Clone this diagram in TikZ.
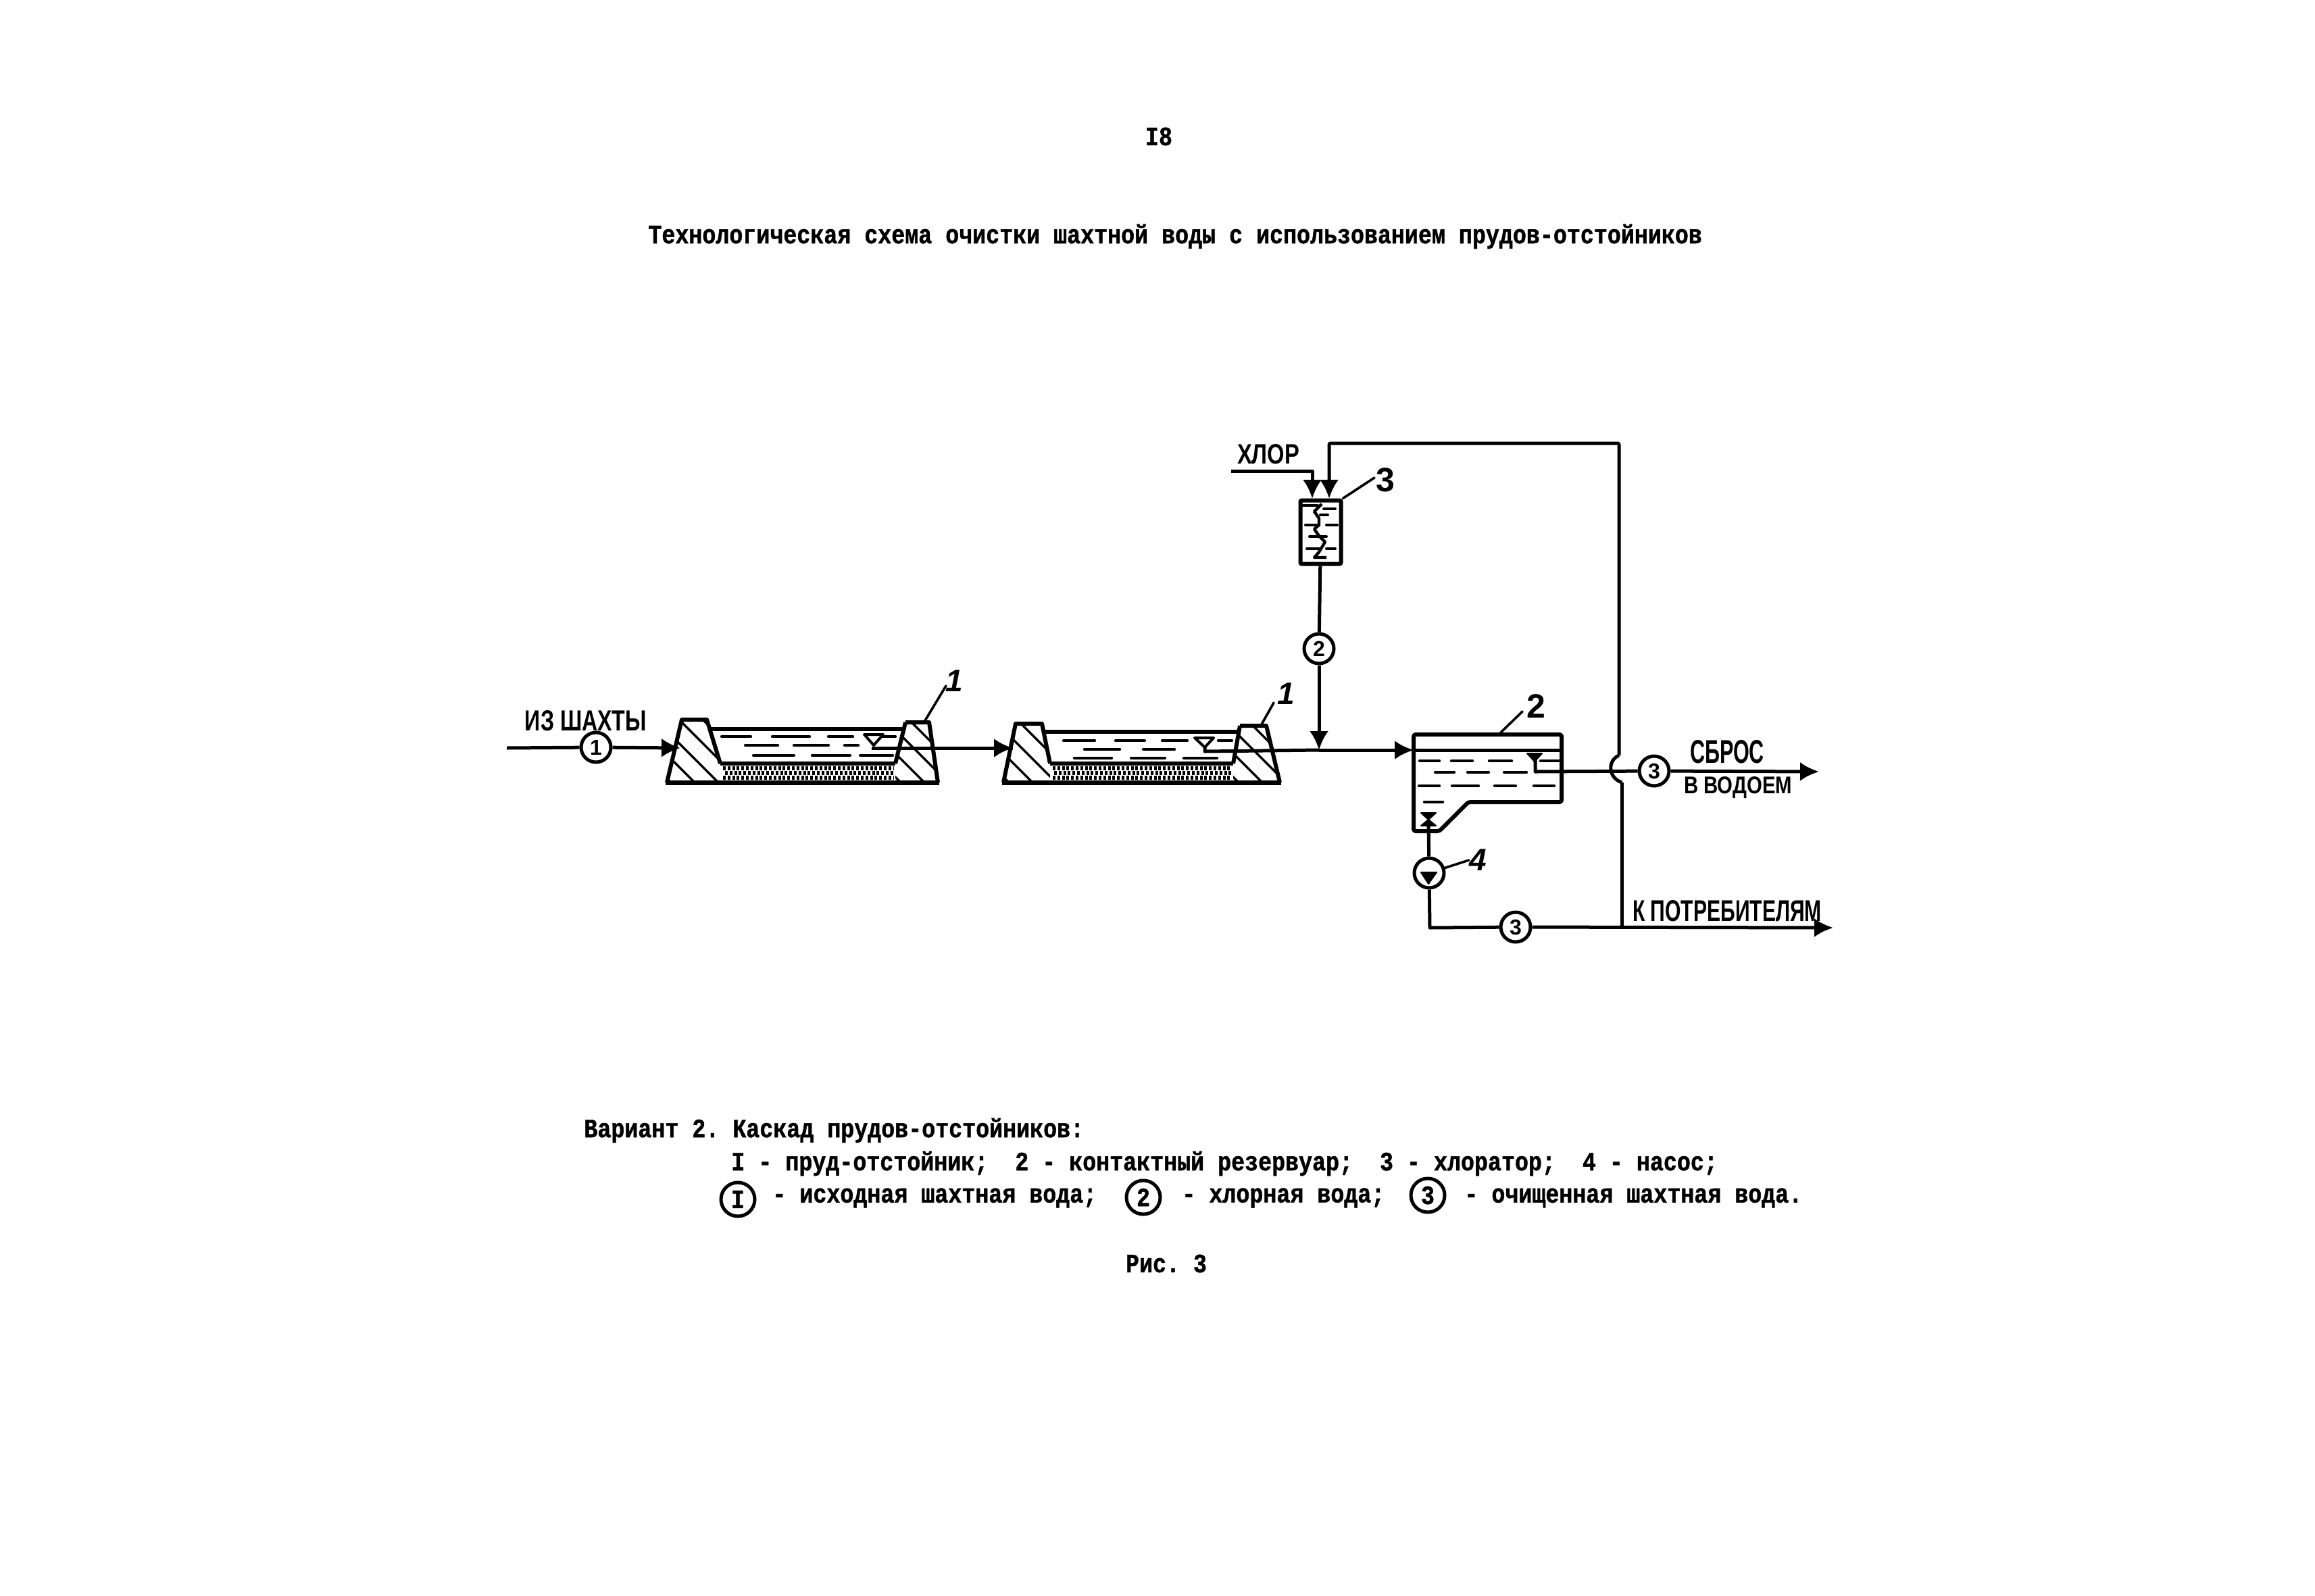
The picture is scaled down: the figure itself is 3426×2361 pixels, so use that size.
\documentclass[tikz,border=0pt]{standalone}
\usepackage{fontspec}
\usepackage{graphicx}
\setmainfont{Liberation Mono}[FakeStretch=0.85,BoldFeatures={FakeBold=1.2}]
\newfontfamily\labfont{Liberation Sans}
\usetikzlibrary{arrows.meta}
\frenchspacing
\newcommand{\fitlab}[3]{\resizebox{#1pt}{#2pt}{\labfont\bfseries #3}}
\tikzset{
  pipe/.style={line width=2.5pt,line join=round},
  flow/.style={pipe,-{Latex[length=14pt,width=14pt]}},
  leader/.style={line width=1.8pt,line cap=round},
  wall/.style={line width=3pt,line join=round},
  hatchline/.style={line width=1.6pt},
  waterdash/.style={line width=2.2pt,line cap=round},
  sediment/.style={line width=2.6pt,dash pattern=on 2pt off 1.4pt},
  tag/.style={circle,draw,line width=2.5pt,fill=white,minimum size=22pt,inner sep=0pt,font=\labfont\bfseries\fontsize{16}{16}\selectfont},
  bigtag/.style={circle,draw,line width=2.5pt,fill=white,minimum size=25pt,inner sep=0pt,font=\bfseries\fontsize{19.6}{22}\selectfont},
  mono/.style={inner sep=0pt,font=\bfseries\fontsize{19.6}{22}\selectfont},
  num/.style={inner sep=0pt,font=\labfont\bfseries\fontsize{25}{25}\selectfont},
  numi/.style={inner sep=0pt,font=\labfont\bfseries\itshape\fontsize{23}{23}\selectfont},
  lab/.style={inner sep=0pt},
  mark tri/.style={fill=black,draw=black,line width=1pt,line join=round},
  level tri/.style={fill=white,draw=black,line width=2pt,line join=round},
}
\begin{document}
\begin{tikzpicture}[x=0.5pt,y=-0.5pt]
\useasboundingbox[fill=white] (0,0) rectangle (3426,2361);

% heading
\node[mono] (page) at (1715,202) {I8};
\node[mono,anchor=west] (title) at (959,350) {Технологическая схема очистки шахтной воды с использованием прудов-отстойников};

% pond 1
\begin{scope}
  \clip (987,1158) -- (1009,1065) -- (1046,1065) -- (1066,1130) -- (1066,1158) -- cycle;
  \foreach \o in {-125,-90,-55,-20,15}
    \draw[hatchline] (1000+\o,1040) -- (1140+\o,1180);
\end{scope}
\begin{scope}
  \clip (1325,1158) -- (1325,1130) -- (1340,1069) -- (1375,1069) -- (1388,1158) -- cycle;
  \foreach \o in {-105,-70,-35,0}
    \draw[hatchline] (1320+\o,1040) -- (1460+\o,1180);
\end{scope}
\foreach \y/\a/\b in {1137/1070/1322,1144/1073/1322,1151/1070/1322}
  \draw[sediment] (\a,\y) -- (\b,\y);
\foreach \y/\a/\b in {1090/1068/1111,1090/1143/1198,1090/1226/1262,1090/1300/1325,
  1103/1103/1151,1103/1175/1226,1103/1250/1270,
  1118/1115/1175,1118/1202/1258,1118/1273/1321}
  \draw[waterdash] (\a,\y) -- (\b,\y);
\draw[wall] (987,1158) -- (1009,1065) -- (1046,1065) -- (1066,1130);
\draw[wall] (1340,1069) -- (1375,1069) -- (1388,1158);
\draw[wall] (1340,1069) -- (1325,1130);
\draw[wall] (1066,1130) -- (1325,1130);
\draw[wall] (1048,1079) -- (1340,1079);
\draw[line width=3.5pt] (985,1158) -- (1390,1158);
\draw[level tri] (1279,1087) -- (1307,1087) -- (1293,1103) -- cycle;

% pond 2
\begin{scope}
  \clip (1485,1158) -- (1503,1071) -- (1542,1071) -- (1554,1130) -- (1554,1158) -- cycle;
  \foreach \o in {-115,-80,-45,-10}
    \draw[hatchline] (1490+\o,1040) -- (1630+\o,1180);
\end{scope}
\begin{scope}
  \clip (1825,1158) -- (1825,1130) -- (1835,1074) -- (1874,1074) -- (1894,1158) -- cycle;
  \foreach \o in {-105,-70,-35,0}
    \draw[hatchline] (1820+\o,1040) -- (1960+\o,1180);
\end{scope}
\foreach \y/\a/\b in {1137/1558/1822,1144/1560/1822,1151/1558/1822}
  \draw[sediment] (\a,\y) -- (\b,\y);
\foreach \y/\a/\b in {1096/1574/1620,1096/1651/1694,1096/1720/1757,1096/1803/1823,
  1109/1605/1657,1109/1692/1738,
  1122/1590/1645,1122/1674/1724,1122/1752/1801}
  \draw[waterdash] (\a,\y) -- (\b,\y);
\draw[wall] (1485,1158) -- (1503,1071) -- (1542,1071) -- (1554,1130);
\draw[wall] (1835,1074) -- (1874,1074) -- (1894,1158);
\draw[wall] (1835,1074) -- (1825,1130);
\draw[wall] (1554,1130) -- (1825,1130);
\draw[wall] (1546,1083) -- (1835,1083);
\draw[line width=3.5pt] (1483,1158) -- (1896,1158);
\draw[level tri] (1768,1092) -- (1796,1092) -- (1783,1106) -- cycle;

% named ports
\coordinate (inflow) at (750,1107);
\coordinate (pond1in) at (1007,1107);
\coordinate (pond1out) at (1290,1107);
\coordinate (pond2in) at (1499,1107);
\coordinate (pond2tri) at (1783,1106);
\coordinate (pond2low) at (1783,1112);
\coordinate (junction) at (1952,1110);
\coordinate (tankin) at (2092,1110);
\coordinate (chlorfree) at (1822,697);
\coordinate (chlorcorner) at (1942,697);
\coordinate (chlorA) at (1942,738);
\coordinate (chlorB) at (1967,738);
\coordinate (retTL) at (1967,656);
\coordinate (retTR) at (2396,656);
\coordinate (bridgeTop) at (2396,1118);
\coordinate (bridgeBot) at (2400,1158);
\coordinate (consumer) at (2400,1373);
\coordinate (outletTop) at (2272,1122);
\coordinate (outletCorner) at (2272,1142);
\coordinate (dumpEnd) at (2692,1142);
\coordinate (consEnd) at (2713,1373);
\coordinate (pumpIn) at (2114,1218);
\coordinate (pumpCorner) at (2116,1373);

% chlorinator
\node[draw,line width=3pt,minimum width=30pt,minimum height=47pt,rounded corners=1pt,inner sep=0pt] (chlorinator) at (1954.5,787.5) {};
\draw[line width=2.2pt,line join=round] (1956,746) -- (1945,757) -- (1952,767) -- (1952,777) -- (1945,783) -- (1952,793) -- (1961,802) -- (1952,817) -- (1945,825) -- (1963,825);
\foreach \y/\a/\b in {748/1927/1950,753/1959/1976,762/1954/1965,777/1932/1952,777/1963/1979,794/1938/1963,812/1934/1952,812/1963/1976}
  \draw[line width=2pt,line cap=round] (\a,\y) -- (\b,\y);

% contact tank
\draw[wall,rounded corners=1.5pt] (2092,1087) -- (2311,1087) -- (2311,1187) -- (2173,1187) -- (2130,1230) -- (2092,1230) -- cycle;
\draw[pipe] (tankin) -- (2311,1110);
\foreach \y/\a/\b in {1126/2101/2130,1126/2148/2179,1126/2204/2237,1126/2280/2308,
  1143/2124/2152,1143/2172/2203,1143/2226/2259,
  1163/2100/2130,1163/2149/2188,1163/2212/2243,1163/2270/2300,
  1187/2108/2135}
  \draw[waterdash] (\a,\y) -- (\b,\y);
\draw[mark tri] (2260,1115) -- (2282,1115) -- (2271,1127) -- cycle;
\draw[mark tri] (2103,1203) -- (2125,1203) -- (2114,1213) -- cycle;
\draw[mark tri] (2103,1222) -- (2125,1222) -- (2114,1213) -- cycle;

% circled tags and pump
\node[tag] (c1) at (882,1106) {1};
\node[tag] (c2) at (1952,960) {2};
\node[tag] (c3a) at (2448,1141) {3};
\node[tag] (c3b) at (2243,1372) {3};
\node[circle,draw,line width=2.5pt,fill=white,minimum size=22pt,inner sep=0pt] (pump) at (2115,1292) {};
\draw[mark tri] (2103,1291) -- (2126,1291) -- (2114,1308) -- cycle;

% pipes
\draw[pipe] (inflow) -- (c1);
\draw[flow] (c1) -- (pond1in);
\draw[pipe] (pond1out) -- (pond2in);
\draw[flow] (1400,1107) -- (pond2in);
\draw[pipe] (pond2tri) -- (pond2low) -- (junction);
\draw[flow] (junction) -- (tankin);
\draw[pipe] (chlorinator) -- (c2);
\draw[flow] (c2) -- (junction);
\draw[flow] (chlorfree) -- (chlorcorner) -- (chlorA);
\draw[flow,rounded corners=1pt] (bridgeTop) -- (retTR) -- (retTL) -- (chlorB);
\draw[pipe] (bridgeTop) .. controls (2380,1124) and (2378,1150) .. (bridgeBot);
\draw[pipe] (bridgeBot) -- (consumer);
\draw[pipe] (outletTop) -- (outletCorner) -- (c3a);
\draw[flow] (c3a) -- (dumpEnd);
\draw[pipe] (pumpIn) -- (pump);
\draw[pipe] (pump) -- (pumpCorner) -- (c3b);
\draw[flow] (c3b) -- (consEnd);

% labels on the scheme
\node[lab] (fromMine) at (867,1067) {\fitlab{90}{15}{ИЗ ШАХТЫ}};
\node[lab] (chlorLab) at (1877,672) {\fitlab{46}{14.5}{ХЛОР}};
\node[lab] (dump1) at (2556,1113) {\fitlab{55}{17}{СБРОС}};
\node[lab] (dump2) at (2572,1166) {\fitlab{80}{12.5}{В ВОДОЕМ}};
\node[lab] (consLab) at (2556,1348) {\fitlab{140}{15.5}{К ПОТРЕБИТЕЛЯМ}};

% item numbers and leaders
\node[numi] (n1a) at (1412,1008) {1};
\coordinate (n1aEnd) at (1368,1068);
\draw[leader] (1400,1015) -- (n1aEnd);
\node[numi] (n1b) at (1903,1027) {1};
\coordinate (n1bEnd) at (1867,1072);
\draw[leader] (1885,1040) -- (n1bEnd);
\node[num] (n2) at (2273,1045) {2};
\coordinate (n2End) at (2220,1085);
\draw[leader] (2253,1053) -- (n2End);
\node[num] (n3) at (2050,710) {3};
\draw[leader] (2034,707) -- (chlorinator.north east);
\node[numi] (n4) at (2187,1273) {4};
\draw[leader] (n4.west) -- (pump);

% legend
\node[mono,anchor=west] (leg1) at (864,1673) {Вариант 2. Каскад прудов-отстойников:};
\node[mono,anchor=west] (leg2) at (1082,1722) {I - пруд-отстойник;\ \ 2 - контактный резервуар;\ \ 3 - хлоратор;\ \ 4 - насос;};
\node[bigtag] (lc1) at (1092,1775) {I};
\node[mono,anchor=west] (leg3a) at (1143,1773) {- исходная шахтная вода;};
\node[bigtag] (lc2) at (1692,1772) {2};
\node[mono,anchor=west] (leg3b) at (1749,1773) {- хлорная вода;};
\node[bigtag] (lc3) at (2113,1769) {3};
\node[mono,anchor=west] (leg3c) at (2167,1773) {- очищенная шахтная вода.};
\node[mono] (fig) at (1726,1870) {Рис. 3};
\end{tikzpicture}
\end{document}
